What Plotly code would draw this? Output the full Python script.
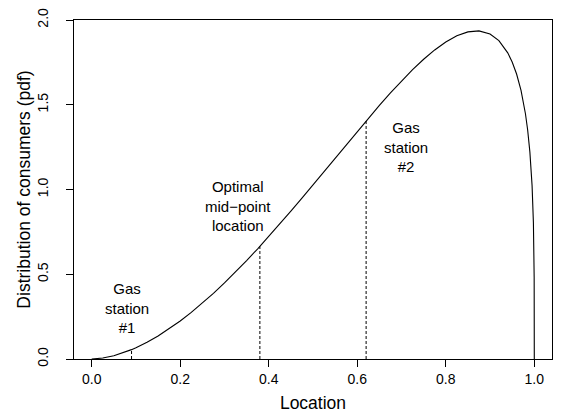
import plotly.graph_objects as go

# Curve of the consumer distribution
location = [0.0, 0.025, 0.05, 0.075, 0.09, 0.1, 0.125, 0.15, 0.175, 0.2, 0.225, 0.25,
            0.275, 0.3, 0.325, 0.35, 0.375, 0.38, 0.4, 0.425, 0.45, 0.475, 0.5, 0.525,
            0.55, 0.575, 0.6, 0.62, 0.625, 0.65, 0.675, 0.7, 0.725, 0.75, 0.775, 0.8,
            0.825, 0.85, 0.87, 0.875, 0.9, 0.92, 0.94, 0.95, 0.96, 0.97, 0.98, 0.985,
            0.99, 0.995, 0.998, 0.999, 0.9997, 1.0]
pdf = [0.0, 0.0056, 0.0194, 0.0399, 0.0552, 0.0665, 0.0986, 0.1358, 0.1778, 0.2242,
       0.2748, 0.3293, 0.3874, 0.4488, 0.5133, 0.5805, 0.6503, 0.6647, 0.7225, 0.7966,
       0.8724, 0.9495, 1.0277, 1.1067, 1.1859, 1.2650, 1.3435, 1.4056, 1.4210, 1.4968,
       1.5703, 1.6407, 1.7071, 1.7684, 1.8233, 1.8701, 1.9066, 1.9299, 1.936, 1.9356,
       1.9172, 1.8780, 1.8062, 1.7525, 1.6814, 1.5850, 1.4471, 1.3513, 1.2222, 1.0229,
       0.803, 0.667, 0.483, 0.0]

# Marked locations (vertical dashed lines up to the curve)
marker_x = [0.09, 0.38, 0.62]
marker_pdf = [0.0552, 0.6647, 1.4056]

# Text labels
label_text = ["Gas<br>station<br>#1", "Optimal<br>mid\u2212point<br>location", "Gas<br>station<br>#2"]
label_x = [0.08, 0.33, 0.71]
label_y = [0.30, 0.90, 1.25]

x_ticks = [0.0, 0.2, 0.4, 0.6, 0.8, 1.0]
y_ticks = [0.0, 0.5, 1.0, 1.5, 2.0]

FONT = "Liberation Sans, Arial, sans-serif"

fig = go.Figure()
fig.add_trace(go.Scatter(x=location, y=pdf, mode="lines",
                         line=dict(color="black", width=1.1),
                         showlegend=False, hoverinfo="skip"))
for mx, mp in zip(marker_x, marker_pdf):
    fig.add_trace(go.Scatter(x=[mx, mx], y=[0, mp], mode="lines",
                             line=dict(color="black", width=1, dash="3px,2px"),
                             showlegend=False, hoverinfo="skip"))

for t, lx, ly in zip(label_text, label_x, label_y):
    fig.add_annotation(x=lx, y=ly, text=t, showarrow=False, xref="x", yref="y",
                       xanchor="center", yanchor="middle",
                       font=dict(family=FONT, size=15, color="black"))

fig.update_layout(
    width=561, height=417,
    margin=dict(l=74, r=8, t=16, b=52),
    paper_bgcolor="white", plot_bgcolor="white",
    font=dict(family=FONT, color="black"),
    showlegend=False,
)
fig.update_xaxes(
    range=[-0.04, 1.04], tickvals=x_ticks, tickformat=".1f",
    ticks="outside", ticklen=7, tickwidth=1, tickcolor="black",
    showline=True, mirror=True, linecolor="black", linewidth=1,
    showgrid=False, zeroline=False,
    tickfont=dict(family=FONT, size=14, color="black"),
    title=dict(text="Location", font=dict(family=FONT, size=17.5, color="black"), standoff=10),
)
fig.update_yaxes(
    range=[0, 2], tickvals=y_ticks, tickformat=".1f",
    ticks="outside", ticklen=7, tickwidth=1, tickcolor="black",
    showline=True, mirror=True, linecolor="black", linewidth=1,
    showgrid=False, zeroline=False, tickangle=-90, ticklabelstandoff=12,
    tickfont=dict(family=FONT, size=14, color="black"),
    title=dict(text="Distribution of consumers (pdf)", font=dict(family=FONT, size=17.5, color="black"), standoff=0),
)

fig.write_html("out.html")
